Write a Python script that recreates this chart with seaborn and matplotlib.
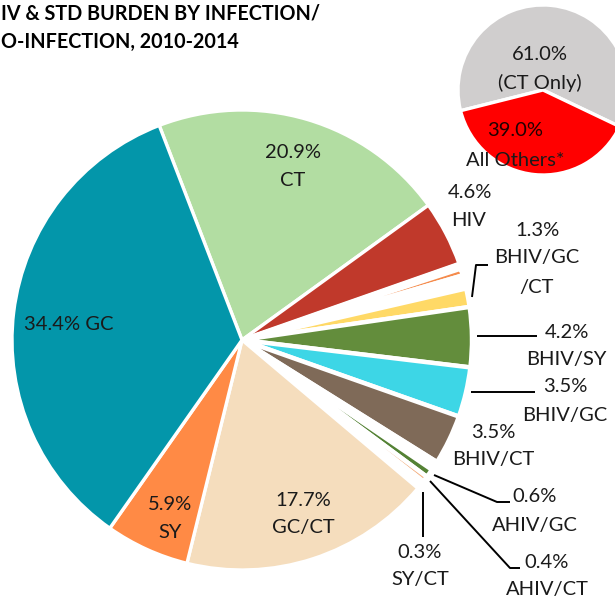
import matplotlib
matplotlib.use("Agg")
import matplotlib.pyplot as plt
import seaborn as sns

sns.set_theme(style="white")
plt.rcParams['font.family'] = ['Lato', 'DejaVu Sans']

# ---------------- data ----------------
# title as visible in the (cropped) reference
title_lines = ["IV & STD BURDEN BY INFECTION/", "O-INFECTION, 2010-2014"]

# main pie, clockwise from the top (blank entries = white gaps visible in the chart)
categories = ["CT", "HIV", "", "", "", "BHIV/GC/CT", "BHIV/SY", "BHIV/GC", "BHIV/CT",
              "", "AHIV/GC", "AHIV/CT", "", "SY/CT", "GC/CT", "SY", "GC"]
values = [20.9, 4.6, 0.35, 0.48, 0.94, 1.3, 4.2, 3.5, 3.5,
          0.64, 0.6, 0.4, 0.31, 0.3, 17.7, 5.9, 34.4]
colors = ["#B2DDA2", "#C0392B", "white", "#F58B4C", "white", "#FFD966", "#638D3C",
          "#3DD6E6", "#7F6A58", "white", "#548235", "#F4B183", "white", "#5BC8E8",
          "#F5DDBD", "#FF8A45", "#0396AA"]

# inset pie
inset_labels = ["CT Only", "All Others*"]
inset_values = [61.0, 39.0]
inset_colors = ["#D0CECE", "#FF0000"]

# ---------------- figure ----------------
W, H = 615, 603
fig = plt.figure(figsize=(W / 100, H / 100), dpi=100)
ax = fig.add_axes([0, 0, 1, 1])


def Y(y):
    return H - y


wedges, _ = ax.pie(values, colors=colors, startangle=111.1, counterclock=False,
                   center=(242, Y(340)), radius=230,
                   wedgeprops=dict(edgecolor="white", linewidth=2.4))
for i in range(2, 14):
    wedges[i].set_linewidth(3.2)

ax.pie(inset_values, colors=inset_colors, startangle=-25.5, counterclock=True,
       center=(543, Y(90)), radius=85,
       wedgeprops=dict(edgecolor="white", linewidth=2.4))

ax.set_xlim(0, W)
ax.set_ylim(0, H)
ax.set_aspect("equal")
ax.axis("off")

# title
ax.text(1, Y(14), title_lines[0], ha="left", va="center", fontsize=14.2,
        fontweight="bold", color="black")
ax.text(1, Y(42), title_lines[1], ha="left", va="center", fontsize=14.2,
        fontweight="bold", color="black")

FS = 14.5
TXT = "#1a1a1a"


def lab(x, y, s, **kw):
    kw.setdefault("color", TXT)
    ax.text(x, Y(y), s, ha="center", va="center", fontsize=FS, **kw)


def pct(v):
    return f"{v:.1f}%"


# inset labels
lab(540, 55, pct(inset_values[0]))
lab(540, 83, f"({inset_labels[0]})")
lab(515, 130, pct(inset_values[1]), color="#200000")
lab(515, 160, inset_labels[1])

v = dict(zip(categories, values))
lab(293, 152, pct(v["CT"]))
lab(293, 181, "CT")
lab(69, 325, f"{pct(v['GC'])} GC")
lab(470, 193, pct(v["HIV"]))
lab(469, 221, "HIV")
lab(537, 230, pct(v["BHIV/GC/CT"]))
lab(537, 258, "BHIV/GC")
lab(537, 287, "/CT")
lab(567, 332, pct(v["BHIV/SY"]))
lab(566, 359, "BHIV/SY")
lab(565, 387, pct(v["BHIV/GC"]))
lab(565, 415, "BHIV/GC")
lab(493, 432, pct(v["BHIV/CT"]))
lab(493, 459, "BHIV/CT")
lab(535, 497, pct(v["AHIV/GC"]))
lab(535, 525, "AHIV/GC")
lab(547, 563, pct(v["AHIV/CT"]))
lab(547, 590, "AHIV/CT")
lab(420, 552, pct(v["SY/CT"]))
lab(420, 580, "SY/CT")
lab(170, 505, pct(v["SY"]))
lab(170, 532, "SY")
lab(303, 500, pct(v["GC/CT"]))
lab(303, 528, "GC/CT")

# leader lines
LW = 1.4
for xs, ys in [
    ([472, 476, 488], [297, 265, 265]),
    ([477, 537], [336, 336]),
    ([471, 535], [392, 392]),
    ([434, 497, 510], [475, 502, 502]),
    ([430, 510, 520], [481, 568, 568]),
    ([423, 423], [492, 537]),
]:
    ax.plot(xs, [Y(y) for y in ys], color="black", lw=LW, solid_capstyle="butt")

fig.savefig("out.png", dpi=100)
